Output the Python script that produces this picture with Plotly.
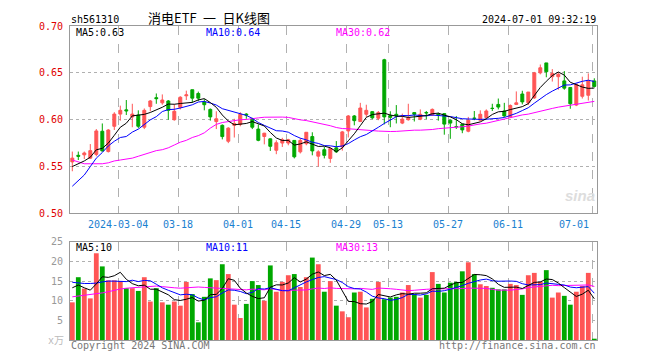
import plotly.graph_objects as go

# ---------------- data ----------------
dates = (
    ["2024-02-21", "2024-02-22", "2024-02-23", "2024-02-26", "2024-02-27", "2024-02-28", "2024-02-29", "2024-03-01"]
    + ["2024-03-%02d" % d for d in (4, 5, 6, 7, 8, 11, 12, 13, 14, 15, 18, 19, 20, 21, 22, 25, 26, 27, 28, 29)]
    + ["2024-04-%02d" % d for d in (1, 2, 3, 8, 9, 10, 11, 12, 15, 16, 17, 18, 19, 22, 23, 24, 25, 26, 29, 30)]
    + ["2024-05-%02d" % d for d in (6, 7, 8, 9, 10, 13, 14, 15, 16, 17, 20, 21, 22, 23, 24, 27, 28, 29, 30, 31)]
    + ["2024-06-%02d" % d for d in (3, 4, 5, 6, 7, 11, 12, 13, 14, 17, 18, 19, 20, 21, 24, 25, 26, 27, 28)]
    + ["2024-07-01"]
)

opens = [0.555, 0.562, 0.5625, 0.559, 0.563, 0.5877, 0.566, 0.593, 0.606, 0.6105,
         0.603, 0.605, 0.592, 0.614, 0.6235, 0.618, 0.620, 0.600, 0.613, 0.6255,
         0.632, 0.628, 0.619, 0.611, 0.598, 0.594, 0.577, 0.594, 0.595, 0.606,
         0.601, 0.590, 0.5821, 0.5796, 0.5674, 0.5751, 0.5751, 0.5779, 0.5657, 0.5744,
         0.582, 0.5611, 0.568, 0.5587, 0.570, 0.571, 0.588, 0.604, 0.598, 0.6058,
         0.6086, 0.6016, 0.664, 0.6045, 0.6058, 0.5964, 0.600, 0.6076, 0.6006, 0.6077,
         0.605, 0.6058, 0.6065, 0.5995, 0.5927, 0.5953, 0.5877, 0.6016, 0.5995, 0.6023,
         0.6122, 0.6163, 0.6093, 0.603, 0.6163, 0.6274, 0.618, 0.6233, 0.650, 0.6606,
         0.6459, 0.6459, 0.6414, 0.6344, 0.6156, 0.625, 0.6261, 0.6414]
highs = [0.566, 0.566, 0.566, 0.574, 0.590, 0.596, 0.590, 0.608, 0.615, 0.621,
         0.617, 0.610, 0.612, 0.621, 0.628, 0.627, 0.621, 0.6165, 0.625, 0.631,
         0.632, 0.630, 0.622, 0.612, 0.609, 0.595, 0.592, 0.601, 0.608, 0.607,
         0.602, 0.595, 0.586, 0.580, 0.578, 0.5807, 0.5796, 0.578, 0.5803, 0.5866,
         0.5866, 0.5674, 0.5709, 0.570, 0.5772, 0.588, 0.605, 0.605, 0.618, 0.616,
         0.609, 0.6093, 0.665, 0.609, 0.6156, 0.6065, 0.617, 0.6076, 0.611, 0.6093,
         0.612, 0.6076, 0.6065, 0.600, 0.604, 0.5953, 0.603, 0.6093, 0.610, 0.611,
         0.617, 0.6226, 0.618, 0.6163, 0.6302, 0.6309, 0.6295, 0.651, 0.6589, 0.6606,
         0.654, 0.6505, 0.6519, 0.6344, 0.6379, 0.6459, 0.6494, 0.6442]
lows = [0.545, 0.557, 0.558, 0.558, 0.561, 0.566, 0.565, 0.589, 0.599, 0.605,
        0.592, 0.591, 0.590, 0.609, 0.617, 0.616, 0.600, 0.599, 0.611, 0.621,
        0.618, 0.620, 0.610, 0.599, 0.590, 0.579, 0.575, 0.581, 0.593, 0.601,
        0.590, 0.577, 0.5737, 0.5667, 0.5632, 0.5709, 0.5727, 0.5587, 0.564, 0.5727,
        0.562, 0.550, 0.5587, 0.554, 0.5646, 0.567, 0.581, 0.594, 0.598, 0.603,
        0.6006, 0.5995, 0.595, 0.592, 0.596, 0.5953, 0.599, 0.5981, 0.5995, 0.6006,
        0.604, 0.599, 0.584, 0.5796, 0.5901, 0.5856, 0.5866, 0.5995, 0.599, 0.6016,
        0.6093, 0.611, 0.603, 0.6025, 0.6156, 0.6163, 0.6156, 0.6222, 0.6484, 0.6453,
        0.6407, 0.632, 0.632, 0.6117, 0.6145, 0.6226, 0.6205, 0.6344]
closes = [0.559, 0.561, 0.5645, 0.567, 0.588, 0.5667, 0.589, 0.606, 0.610, 0.6095,
          0.606, 0.593, 0.610, 0.620, 0.6225, 0.621, 0.610, 0.609, 0.624, 0.6265,
          0.623, 0.623, 0.616, 0.603, 0.601, 0.582, 0.591, 0.596, 0.606, 0.605,
          0.592, 0.578, 0.5856, 0.5716, 0.5754, 0.5786, 0.5786, 0.5604, 0.5779, 0.5866,
          0.5667, 0.5657, 0.562, 0.5692, 0.5657, 0.587, 0.604, 0.599, 0.6125, 0.610,
          0.602, 0.6076, 0.603, 0.6025, 0.604, 0.6006, 0.6023, 0.6058, 0.6058, 0.6073,
          0.611, 0.605, 0.5953, 0.5964, 0.5925, 0.5891, 0.5995, 0.6015, 0.6058, 0.6093,
          0.612, 0.6135, 0.604, 0.6152, 0.618, 0.619, 0.6295, 0.650, 0.6554, 0.6512,
          0.6494, 0.6484, 0.6337, 0.617, 0.6379, 0.6372, 0.6414, 0.6355]
volumes = [9.6, 16.0, 13.1, 10.6, 22.1, 18.75, 15.2, 15.2, 15.0, 13.2,
           13.2, 12.5, 16.0, 9.8, 13.2, 9.6, 9.0, 9.8, 8.75, 14.8,
           11.7, 4.5, 11.0, 15.7, 15.25, 19.3, 16.8, 9.0, 5.6, 9.2,
           15.0, 14.0, 10.0, 19.0, 12.3, 14.8, 16.5, 16.8, 13.5, 16.0,
           21.0, 19.3, 12.3, 15.0, 8.75, 7.3, 5.8, 12.1, 12.3, 8.3,
           10.5, 14.8, 10.4, 10.8, 11.0, 12.1, 14.0, 11.7, 10.8, 11.5,
           17.3, 14.3, 12.1, 14.6, 14.8, 17.5, 19.8, 16.8, 14.2, 13.75,
           13.3, 12.9, 12.9, 14.3, 14.0, 11.5, 16.5, 17.1, 14.8, 17.8,
           10.8, 12.1, 11.25, 9.0, 12.3, 13.75, 17.1, 0.33]

# moving-average values before enough history is in view
ma5_head = [0.550, 0.553, 0.556, 0.560]
ma10_head = [0.529, 0.535, 0.541, 0.550, 0.559, 0.565, 0.572, 0.577, 0.581]
ma30_head = [0.557, 0.555, 0.553, 0.553, 0.553, 0.553, 0.554, 0.556, 0.557, 0.558,
             0.559, 0.561, 0.563, 0.565, 0.567, 0.568, 0.570, 0.573, 0.576, 0.578,
             0.581, 0.583, 0.586, 0.591, 0.595, 0.597, 0.598, 0.5995, 0.600]
vma5_head = [13.3, 14.0, 13.3, 12.7]
vma10_head = [14.7, 14.5, 14.4, 14.4, 14.5, 14.8, 15.0, 15.0, 15.0]
vma30_head = [11.0, 11.2, 11.3, 11.5, 11.7, 12.0, 12.3, 12.7, 13.0, 13.2,
              13.3, 13.5, 13.6, 13.7, 13.75, 13.6, 13.4, 13.3, 13.2, 13.3,
              13.4, 13.5, 13.4, 13.3, 13.2, 13.2, 13.1, 13.0, 12.9]

price_ticks = [0.70, 0.65, 0.60, 0.55, 0.50]
price_tick_labels = ["0.70", "0.65", "0.60", "0.55", "0.50"]
vol_ticks = [25, 20, 15, 10, 5]
vol_tick_labels = ["25", "20", "15", "10", "5"]
date_ticks = ["2024-03-04", "2024-03-18", "2024-04-01", "2024-04-15", "2024-04-29",
              "2024-05-13", "2024-05-27", "2024-06-11", "2024-07-01"]
date_tick_labels = ["2024-03-04", "03-18", "04-01", "04-15", "04-29",
                    "05-13", "05-27", "06-11", "07-01"]


def moving_average(values, n, head):
    out = list(head)
    for i in range(len(head), len(values)):
        out.append(sum(values[i - n + 1:i + 1]) / n)
    return out


ma5 = moving_average(closes, 5, ma5_head)
ma10 = moving_average(closes, 10, ma10_head)
ma30 = moving_average(closes, 30, ma30_head)
vma5 = moving_average(volumes, 5, vma5_head)
vma10 = moving_average(volumes, 10, vma10_head)
vma30 = moving_average(volumes, 30, vma30_head)

# ---------------- figure ----------------
RED = "#ff5555"
GREEN = "#00a800"
MONO = "DejaVu Sans Mono"
BODY_MARGIN = 8  # default page margin the browser puts around the plot div

idx = list(range(len(dates)))
grid_pos = [dates.index(d) - 0.33 for d in date_ticks]
bar_colors = [RED if c >= o else GREEN for o, c in zip(opens, closes)]

fig = go.Figure()
fig.add_trace(go.Candlestick(
    x=idx, open=opens, high=highs, low=lows, close=closes,
    increasing=dict(line=dict(color=RED, width=1), fillcolor=RED),
    decreasing=dict(line=dict(color=GREEN, width=1), fillcolor=GREEN),
    whiskerwidth=0, showlegend=False, hoverinfo="skip",
    xaxis="x", yaxis="y"))
for vals, col in ((ma30, "#ff00ff"), (ma10, "#0000ff"), (ma5, "#000000")):
    fig.add_trace(go.Scatter(x=idx, y=vals, mode="lines", line=dict(color=col, width=1),
                             showlegend=False, hoverinfo="skip", xaxis="x", yaxis="y"))

fig.add_trace(go.Bar(x=idx, y=volumes, marker=dict(color=bar_colors, line=dict(width=0)),
                     showlegend=False, hoverinfo="skip", xaxis="x2", yaxis="y2"))
for vals, col in ((vma30, "#ff00ff"), (vma10, "#0000ff"), (vma5, "#000000")):
    fig.add_trace(go.Scatter(x=idx, y=vals, mode="lines", line=dict(color=col, width=1),
                             showlegend=False, hoverinfo="skip", xaxis="x2", yaxis="y2"))

xr = [-0.383, 87.45]
common_x = dict(range=xr, showgrid=True, gridcolor="#b0b0b0", griddash="dash", gridwidth=1,
                tickvals=grid_pos, showticklabels=False, ticks="", zeroline=False,
                showline=True, mirror=True, linecolor="#999999", linewidth=1,
                rangeslider=dict(visible=False), fixedrange=True)

fig.update_layout(
    width=660 - BODY_MARGIN, height=360 - BODY_MARGIN,
    margin=dict(l=70 - BODY_MARGIN, r=63, t=20 - BODY_MARGIN, b=20),
    paper_bgcolor="white", plot_bgcolor="white",
    bargap=0.2, hovermode=False,
    xaxis=dict(domain=[0, 1], anchor="y", **common_x),
    xaxis2=dict(domain=[0, 1], anchor="y2", matches="x", **common_x),
    yaxis=dict(domain=[0.403125, 1], range=[0.50, 0.70], anchor="x",
               tickvals=price_ticks, ticktext=price_tick_labels,
               tickfont=dict(family=MONO, size=10, color="#e00000"),
               showgrid=True, gridcolor="#b0b0b0", griddash="dot", gridwidth=1,
               zeroline=False, showline=True, mirror=True, linecolor="#999999", linewidth=1,
               ticks="", ticklabelstandoff=4),
    yaxis2=dict(domain=[0, 0.3125], range=[0, 25], anchor="x2",
                tickvals=vol_ticks, ticktext=vol_tick_labels,
                tickfont=dict(family=MONO, size=10, color="#999999"),
                showgrid=True, gridcolor="#b0b0b0", griddash="dot", gridwidth=1,
                zeroline=False, showline=True, mirror=True, linecolor="#999999", linewidth=1,
                ticks="", ticklabelstandoff=4),
)


def px_x(x):
    return (x - 70) / 527.0


def px_y(y):
    return (340 - y) / 320.0


def note(text, x, y, xanchor="left", color="#000000", size=10, family=MONO, **kw):
    fig.add_annotation(text=text, x=px_x(x), y=px_y(y), xref="paper", yref="paper",
                       xanchor=xanchor, yanchor="middle", showarrow=False, borderpad=0,
                       font=dict(family=family, size=size, color=color), **kw)


SP = "\u2002"  # en space
# header
note("sh561310", 70, 13)
note("消电ETF" + SP + "一" + SP + "日K线图", 209, 11, xanchor="center", size=13,
     family="Noto Sans CJK SC, Noto Sans CJK JP, sans-serif")
note("2024-07-01 09:32:19", 597, 13, xanchor="right")

# MA legends
note("MA5:%.2f" % ma5[-1], 75, 27)
note("MA10:%.2f" % ma10[-1], 205, 27, color="#0000ff")
note("MA30:%.2f" % ma30[-1], 335, 27, color="#ff00ff")
note("MA5:%d" % int(vma5[-1]), 75, 246)
note("MA10:%d" % int(vma10[-1]), 205, 246, color="#0000ff")
note("MA30:%d" % int(vma30[-1]), 335, 246, color="#ff00ff")

# date labels on the x axis
for i, (pos, lab) in enumerate(zip(grid_pos, date_tick_labels)):
    last = i == len(grid_pos) - 1
    fig.add_annotation(text=lab, x=pos - (0.45 if last else 0), xref="x", y=px_y(222), yref="paper",
                       xanchor="right" if last else "center", yanchor="middle", showarrow=False,
                       borderpad=0, font=dict(family=MONO, size=10, color="#1a80d0"))

# footer
note("x万", 65, 340, xanchor="right", color="#bbbbbb",
     family="DejaVu Sans Mono, Noto Sans CJK SC")
note("Copyright 2024 SINA.COM", 70, 346, color="#777777")
note("http://finance.sina.com.cn", 597, 346, xanchor="right", color="#777777")

# watermark
note("<b><i>sina</i></b>", 580, 193, xanchor="center", color="#dddddd", size=15,
     family="Liberation Sans, Arial")

fig.write_html("out.html", config={"displayModeBar": False})
